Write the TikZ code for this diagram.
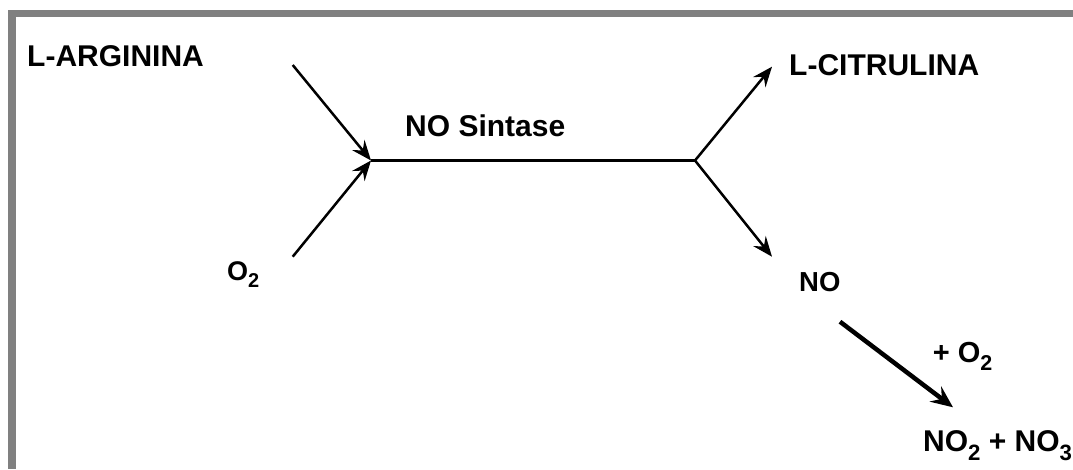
\documentclass[tikz,border=0pt]{standalone}
\usepackage{fontspec}
\usepackage{graphicx}
\setmainfont{Liberation Sans}
\usetikzlibrary{arrows.meta}
\definecolor{framegray}{RGB}{128,128,128}
\newcommand\lowsub[1]{\raisebox{-0.28em}{\scalebox{0.74}{#1}}}
\begin{document}
\begin{tikzpicture}[x=1pt,y=-1pt,
  lbl/.style={anchor=base west,inner sep=0pt,font=\bfseries\fontsize{30}{32}\selectfont},
  thinarrow/.style={line width=2.5pt,-{Stealth[length=20pt,width=16pt,inset=7pt]}},
  thickarrow/.style={line width=4.5pt,-{Stealth[length=22pt,width=19pt,inset=8pt]}},
  plainline/.style={line width=2.5pt}]
\useasboundingbox (0,0) rectangle (1073,469);
\fill[framegray] (8,10) rectangle (1073,17);
\fill[framegray] (8,10) rectangle (16,469);

\node[lbl] (arg) at (27,66) {L-ARGININA};
\node[lbl] (nos) at (405,136.7) {NO Sintase};
\node[lbl] (cit) at (789,75) {L-CITRULINA};
\node[lbl,font=\bfseries\fontsize{27}{29}\selectfont] (o2) at (227,280) {O\lowsub{2}};
\node[lbl,font=\bfseries\fontsize{27.5}{29}\selectfont] (no) at (799,291.7) {NO};
\node[lbl,font=\bfseries\fontsize{29}{30}\selectfont] (plo) at (932.7,362.7) {+ O\lowsub{2}};
\node[lbl] (prod) at (923,451.7) {NO\lowsub{2} + NO\lowsub{3}};

\coordinate (a1) at (292.7,65);
\coordinate (a2) at (292.7,256.7);
\coordinate (j1) at (371,160.5);
\coordinate (j2) at (695,160.5);
\coordinate (c1) at (772,66.7);
\coordinate (c2) at (772,256.7);
\coordinate (t1) at (840,321.7);
\coordinate (t2) at (953,407.3);

\draw[thinarrow] (a1) -- (j1);
\draw[thinarrow] (a2) -- (j1);
\draw[plainline] (j1) -- (j2);
\draw[thinarrow] (j2) -- (c1);
\draw[thinarrow] (j2) -- (c2);
\draw[thickarrow] (t1) -- (t2);
\end{tikzpicture}
\end{document}
